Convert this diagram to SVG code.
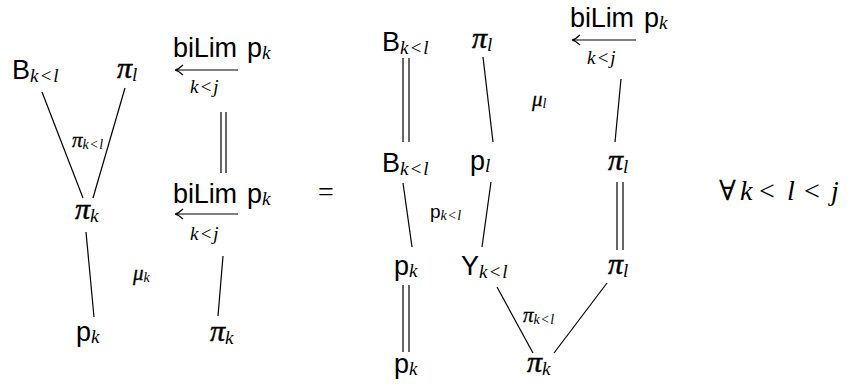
<svg xmlns="http://www.w3.org/2000/svg" width="850" height="385" viewBox="0 0 850 385">
<style>
.s{font-family:"Liberation Sans",Arial,sans-serif;font-size:27px;fill:#000}
.ss{font-family:"Liberation Sans",Arial,sans-serif;font-size:19px;fill:#000}
.m{font-family:"Liberation Serif","Times New Roman","DejaVu Serif",serif;font-style:italic;font-size:28px;fill:#000}
.pi{font-family:"Liberation Serif","Times New Roman","DejaVu Serif",serif;font-style:italic;font-size:30px;fill:#000;stroke:#000;stroke-width:0.5}
.sb{font-family:"Liberation Serif","Times New Roman","DejaVu Serif",serif;font-style:italic;font-size:19px;fill:#000}
.sm{font-family:"Liberation Serif","Times New Roman","DejaVu Serif",serif;font-style:italic;font-size:21px;fill:#000;stroke:#000;stroke-width:0.3}
.ssb{font-family:"Liberation Serif","Times New Roman","DejaVu Serif",serif;font-style:italic;font-size:14px;fill:#000}
.rel{font-family:"Liberation Serif","Times New Roman","DejaVu Serif",serif;font-size:28px;fill:#000}
.ln{stroke:#000;stroke-width:1.2;fill:none}
</style>
<rect width="850" height="385" fill="#fff"/>
<g id="connectors">
  <line class="ln" x1="42" y1="92" x2="83" y2="198"/>
  <line class="ln" x1="125" y1="88" x2="93" y2="198"/>
  <line class="ln" x1="221" y1="112" x2="221" y2="173"/>
  <line class="ln" x1="226" y1="112" x2="226" y2="173"/>
  <line class="ln" x1="86" y1="232" x2="94" y2="317"/>
  <line class="ln" x1="223" y1="256" x2="218" y2="316"/>
  <path class="ln" d="M175,70 H238 M183,65 Q179,69 175,70 Q179,71 183,75"/>
  <path class="ln" d="M175,214 H238 M183,209 Q179,213 175,214 Q179,215 183,219"/>
  <line class="ln" x1="403" y1="58" x2="403" y2="142"/>
  <line class="ln" x1="409" y1="58" x2="409" y2="142"/>
  <line class="ln" x1="483" y1="57" x2="493" y2="142"/>
  <line class="ln" x1="621" y1="79" x2="615" y2="142"/>
  <path class="ln" d="M572,40 H636 M580,35 Q576,39 572,40 Q576,41 580,45"/>
  <line class="ln" x1="403" y1="183" x2="412" y2="247"/>
  <line class="ln" x1="491" y1="182" x2="482" y2="247"/>
  <line class="ln" x1="617" y1="182" x2="617" y2="250"/>
  <line class="ln" x1="623" y1="182" x2="623" y2="250"/>
  <line class="ln" x1="403" y1="285" x2="403" y2="352"/>
  <line class="ln" x1="409" y1="285" x2="409" y2="352"/>
  <line class="ln" x1="497" y1="287" x2="533" y2="353"/>
  <line class="ln" x1="607" y1="283" x2="554" y2="353"/>
</g>
<g id="L-B"><text x="12" y="79"><tspan class="s">B</tspan><tspan class="sb" y="82" letter-spacing="1">k&lt;l</tspan></text></g>
<g id="L-pil"><text x="117" y="78"><tspan class="pi">π</tspan><tspan class="sb" y="81">l</tspan></text></g>
<g id="L-bilim1"><text class="s" x="173" y="57" textLength="64" lengthAdjust="spacing">biLim</text><text x="247" y="57"><tspan class="s">p</tspan><tspan class="sb" y="59">k</tspan></text><text class="sb" x="190" y="93" letter-spacing="1">k&lt;j</text></g>
<g id="L-pikl"><text x="72" y="147"><tspan class="sm">π</tspan><tspan class="ssb" y="149" letter-spacing="0.5">k&lt;l</tspan></text></g>
<g id="L-bilim2"><text class="s" x="173" y="203" textLength="64" lengthAdjust="spacing">biLim</text><text x="247" y="203"><tspan class="s">p</tspan><tspan class="sb" y="205">k</tspan></text><text class="sb" x="190" y="240" letter-spacing="1">k&lt;j</text></g>
<g id="L-pik"><text x="75" y="219"><tspan class="pi">π</tspan><tspan class="sb" y="222">k</tspan></text></g>
<g id="L-muk"><text x="133" y="280"><tspan class="sm">μ</tspan><tspan class="ssb" y="282">k</tspan></text></g>
<g id="L-pk"><text x="76" y="341"><tspan class="s">p</tspan><tspan class="sb" y="343">k</tspan></text></g>
<g id="L-pik2"><text x="210" y="341"><tspan class="pi">π</tspan><tspan class="sb" y="344">k</tspan></text></g>
<g id="eq"><text class="rel" x="318" y="201" font-size="32">=</text></g>
<g id="M-B1"><text x="382" y="51"><tspan class="s">B</tspan><tspan class="sb" y="54" letter-spacing="1">k&lt;l</tspan></text></g>
<g id="M-pil1"><text x="472" y="48"><tspan class="pi">π</tspan><tspan class="sb" y="51">l</tspan></text></g>
<g id="M-bilim"><text class="s" x="570" y="27" textLength="64" lengthAdjust="spacing">biLim</text><text x="644" y="27"><tspan class="s">p</tspan><tspan class="sb" y="29">k</tspan></text><text class="sb" x="587" y="64" letter-spacing="1">k&lt;j</text></g>
<g id="M-mul"><text x="532" y="106"><tspan class="sm">μ</tspan><tspan class="ssb" y="108">l</tspan></text></g>
<g id="M-B2"><text x="382" y="172"><tspan class="s">B</tspan><tspan class="sb" y="175" letter-spacing="1">k&lt;l</tspan></text></g>
<g id="M-pl"><text x="470" y="170"><tspan class="s">p</tspan><tspan class="sb" y="172">l</tspan></text></g>
<g id="M-pil2"><text x="608" y="170"><tspan class="pi">π</tspan><tspan class="sb" y="173">l</tspan></text></g>
<g id="M-pkl"><text x="430" y="218"><tspan class="ss">p</tspan><tspan class="ssb" y="220" letter-spacing="0.5">k&lt;l</tspan></text></g>
<g id="M-pk1"><text x="394" y="275"><tspan class="s">p</tspan><tspan class="sb" y="277">k</tspan></text></g>
<g id="M-Y"><text x="461" y="275"><tspan class="s">Y</tspan><tspan class="sb" y="278" letter-spacing="1">k&lt;l</tspan></text></g>
<g id="M-pil3"><text x="608" y="274"><tspan class="pi">π</tspan><tspan class="sb" y="277">l</tspan></text></g>
<g id="M-pikl"><text x="523" y="322"><tspan class="sm">π</tspan><tspan class="ssb" y="324" letter-spacing="0.5">k&lt;l</tspan></text></g>
<g id="M-pk2"><text x="394" y="373"><tspan class="s">p</tspan><tspan class="sb" y="375">k</tspan></text></g>
<g id="M-pik"><text x="527" y="372"><tspan class="pi">π</tspan><tspan class="sb" y="375">k</tspan></text></g>
<g id="cond"><text class="rel" x="719" y="200">∀</text><text class="m" x="740" y="200">k</text><text class="rel" x="759" y="200">&lt;</text><text class="m" x="787" y="200">l</text><text class="rel" x="804" y="200">&lt;</text><text class="m" x="831" y="200">j</text></g>
</svg>
